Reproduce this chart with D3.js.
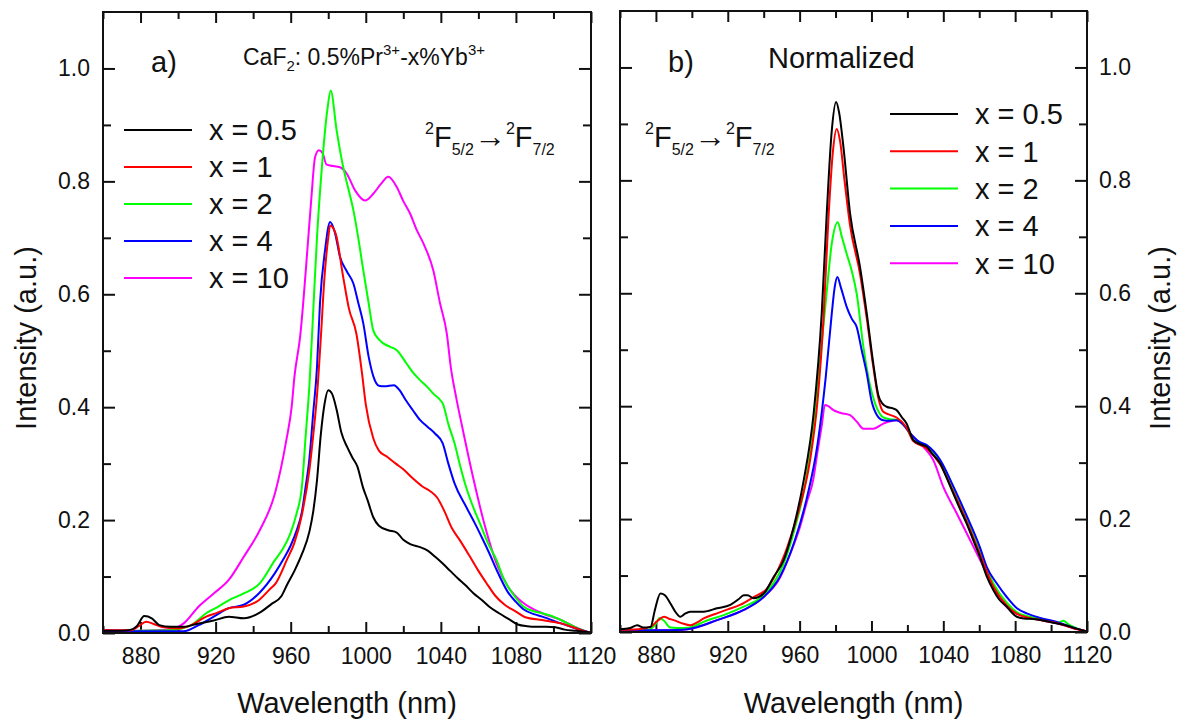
<!DOCTYPE html>
<html><head><meta charset="utf-8">
<script src="https://cdn.jsdelivr.net/npm/d3@7"></script>
<style>
body{margin:0;background:#fff}
text{font-family:Arial,"Liberation Sans",sans-serif;fill:#111}
</style></head>
<body><svg id="chart" width="1185" height="722"></svg>
<script>
// ---------- data ----------
const wavelengthTicks = [880, 920, 960, 1000, 1040, 1080, 1120];
const wavelengthMinorTicks = [860, 900, 940, 980, 1020, 1060, 1100];
const intensityTicks = [0, 0.2, 0.4, 0.6, 0.8, 1.0];
const intensityMinorTicks = [0.1, 0.3, 0.5, 0.7, 0.9];
const seriesLabels = ["x = 0.5", "x = 1", "x = 2", "x = 4", "x = 10"];
const seriesColors = ["#000000", "#ff0000", "#00ff00", "#0000ff", "#ff00ff"];

// panel a) absolute intensity  [wavelength nm, intensity]
const absX05 = [[860,0.004],[870,0.004],[875,0.006],[878,0.012],[882,0.030],[886,0.026],[890,0.014],[896,0.011],[903,0.011],[911,0.017],[919,0.022],[927,0.029],[935,0.026],[943,0.035],[950,0.052],[955,0.065],[958,0.085],[962,0.11],[966,0.14],[970,0.18],[972,0.215],[974,0.27],[976,0.35],[978,0.405],[980,0.430],[982,0.424],[984.5,0.395],[987,0.355],[990,0.33],[993,0.31],[995.5,0.295],[998.5,0.258],[1001,0.235],[1004,0.205],[1007,0.19],[1012,0.182],[1016.5,0.178],[1020,0.165],[1024,0.157],[1029,0.152],[1033,0.146],[1037,0.135],[1041,0.123],[1045,0.11],[1049,0.097],[1053,0.085],[1057.5,0.07],[1062,0.058],[1066,0.046],[1071,0.035],[1076,0.025],[1081,0.015],[1086,0.012],[1091,0.011],[1096,0.011],[1101,0.01],[1106,0.006],[1112,0.004],[1120,0.001]];
const absX1 = [[860,0.005],[875,0.005],[879,0.012],[883,0.020],[887,0.016],[891,0.011],[900,0.008],[907,0.014],[915,0.029],[921,0.036],[927,0.044],[935,0.047],[943,0.058],[949,0.078],[952,0.088],[958,0.13],[962,0.16],[966,0.21],[970,0.29],[972,0.35],[974,0.42],[976,0.52],[978,0.63],[980,0.70],[981,0.722],[984,0.707],[988,0.63],[991,0.575],[995,0.53],[998,0.46],[1000,0.405],[1004,0.345],[1007,0.323],[1011,0.313],[1016,0.300],[1020,0.29],[1025,0.274],[1030,0.26],[1034,0.252],[1038,0.24],[1042,0.215],[1046,0.185],[1050,0.165],[1055,0.138],[1060,0.11],[1064,0.09],[1069,0.066],[1074,0.05],[1080,0.038],[1085,0.028],[1094,0.023],[1104,0.017],[1114,0.006],[1120,0.0]];
const absX2 = [[860,0.002],[880,0.004],[896,0.005],[902,0.008],[907,0.014],[915,0.035],[921,0.046],[927,0.058],[935,0.07],[943.5,0.088],[951.6,0.129],[956,0.15],[959.8,0.176],[963,0.21],[966,0.26],[968,0.35],[970,0.44],[972,0.57],[974,0.70],[976.5,0.82],[979.5,0.926],[981.3,0.961],[984.5,0.89],[988,0.825],[990.5,0.79],[993.4,0.749],[996,0.70],[998.7,0.642],[1001.5,0.585],[1004,0.536],[1007,0.52],[1009.3,0.513],[1013,0.507],[1016.5,0.501],[1021.8,0.477],[1025,0.462],[1028.9,0.448],[1033,0.435],[1036,0.424],[1039,0.415],[1041.2,0.405],[1044,0.37],[1047.3,0.336],[1050,0.3],[1053.4,0.259],[1057,0.225],[1061.6,0.188],[1065,0.16],[1069.7,0.129],[1073,0.1],[1075.8,0.082],[1080,0.062],[1084,0.047],[1090,0.038],[1094,0.035],[1099,0.03],[1104,0.023],[1112,0.01],[1120,0.0]];
const absX4 = [[860,0.003],[880,0.003],[895,0.003],[903,0.003],[911,0.014],[919,0.029],[927,0.044],[935,0.050],[943,0.07],[951.6,0.106],[956,0.13],[960,0.155],[963,0.18],[966,0.215],[968,0.26],[970,0.31],[972,0.39],[974,0.47],[975.6,0.584],[978.3,0.678],[981,0.728],[983.5,0.71],[986.3,0.666],[990,0.64],[993.4,0.619],[996,0.585],[998.7,0.548],[1001.5,0.49],[1004,0.455],[1007,0.438],[1010,0.437],[1015,0.439],[1018,0.43],[1021,0.414],[1025,0.395],[1029,0.377],[1033,0.365],[1037,0.353],[1041,0.336],[1044,0.3],[1047.3,0.265],[1053.4,0.224],[1058,0.195],[1061.6,0.171],[1066,0.14],[1069.7,0.112],[1075.8,0.072],[1080,0.055],[1084,0.042],[1090,0.033],[1094,0.029],[1104,0.017],[1112,0.008],[1120,0.0]];
const absX10 = [[860,0.005],[880,0.004],[895,0.006],[903,0.017],[911,0.047],[919,0.07],[927,0.094],[935,0.135],[943.5,0.182],[951.6,0.247],[957.7,0.342],[960.5,0.40],[962,0.454],[965,0.524],[969.4,0.701],[971,0.77],[973,0.843],[975,0.855],[977,0.85],[979,0.83],[981,0.828],[986.3,0.825],[989.8,0.814],[994.3,0.784],[999.6,0.766],[1004,0.778],[1008,0.795],[1012,0.808],[1016.5,0.79],[1020,0.765],[1023.6,0.743],[1027,0.715],[1030.7,0.69],[1036,0.642],[1039.5,0.585],[1043.2,0.530],[1045.3,0.471],[1048,0.42],[1051.4,0.365],[1057.5,0.271],[1063.6,0.188],[1069.7,0.123],[1075.8,0.082],[1084,0.053],[1094,0.035],[1104,0.023],[1112,0.01],[1120,0.0]];

// panel b) normalized intensity
const normX05 = [[860,0.005],[865.7,0.007],[869.5,0.012],[873,0.008],[877,0.009],[879.5,0.04],[882.5,0.068],[885,0.065],[888,0.051],[891,0.035],[893.6,0.027],[896,0.032],[899,0.036],[906.6,0.036],[914,0.042],[921.4,0.048],[926,0.058],[928.9,0.065],[931,0.065],[934.4,0.06],[940,0.068],[945.6,0.098],[951.1,0.127],[956.7,0.186],[962.3,0.269],[967.8,0.387],[972.3,0.564],[975.1,0.741],[977.9,0.888],[980.3,0.939],[982,0.92],[984.4,0.859],[988.1,0.741],[993.6,0.647],[997.4,0.564],[1001,0.476],[1003.8,0.42],[1006,0.405],[1008.5,0.399],[1012,0.396],[1014,0.393],[1017,0.38],[1019.6,0.369],[1023.3,0.340],[1027,0.333],[1030.8,0.328],[1034,0.315],[1038.2,0.299],[1042,0.272],[1045.6,0.245],[1049,0.22],[1053,0.192],[1057,0.16],[1060.4,0.133],[1064,0.1],[1067.9,0.074],[1071,0.058],[1075.3,0.045],[1078,0.035],[1080.9,0.027],[1085,0.024],[1090,0.023],[1096,0.02],[1102,0.016],[1108,0.012],[1114,0.006],[1120,0.001]];
const normX1 = [[860,0.004],[870,0.005],[877,0.009],[881,0.02],[884.5,0.027],[887,0.024],[889.9,0.021],[895,0.015],[899,0.012],[903,0.017],[906.6,0.024],[914,0.033],[920,0.04],[926.8,0.048],[934.4,0.062],[941.8,0.077],[946.8,0.103],[953.1,0.150],[959.5,0.215],[965.8,0.304],[970,0.41],[973.2,0.55],[976,0.73],[978.5,0.85],[980.6,0.891],[982.5,0.87],[985,0.80],[988.1,0.72],[993.6,0.635],[997.4,0.555],[1001,0.47],[1003.8,0.415],[1006.6,0.39],[1010,0.385],[1014,0.38],[1019.6,0.362],[1023.3,0.338],[1030.8,0.325],[1038.2,0.297],[1045.6,0.248],[1053,0.196],[1060.4,0.138],[1067.9,0.08],[1075.3,0.047],[1081,0.032],[1088,0.025],[1096,0.02],[1104,0.015],[1112,0.007],[1120,0.001]];
const normX2 = [[860,0.002],[875,0.003],[880,0.015],[882,0.025],[884.5,0.02],[888,0.008],[895.6,0.007],[901,0.01],[906.6,0.018],[917.7,0.03],[928.9,0.045],[938.1,0.06],[945.6,0.087],[951,0.12],[957,0.18],[963,0.26],[968,0.37],[972,0.5],[975,0.6],[978,0.69],[981.2,0.726],[983.5,0.70],[986.2,0.67],[989,0.64],[991.8,0.599],[995.5,0.505],[999,0.44],[1002,0.405],[1006.6,0.38],[1010,0.377],[1014,0.376],[1019.6,0.36],[1023.3,0.34],[1030.8,0.33],[1038.2,0.302],[1045.6,0.252],[1053,0.2],[1060.4,0.143],[1067.9,0.086],[1075.3,0.052],[1081,0.035],[1088,0.027],[1096,0.022],[1104,0.017],[1107,0.02],[1109,0.015],[1114,0.007],[1120,0.001]];
const normX4 = [[860,0.003],[880,0.003],[895,0.004],[901,0.007],[914,0.021],[928.9,0.039],[940,0.062],[948.9,0.097],[957.3,0.162],[963.7,0.233],[970,0.333],[974.5,0.45],[977.9,0.564],[979.5,0.61],[981,0.629],[983,0.61],[986.2,0.576],[989,0.555],[991.8,0.540],[994.5,0.5],[997.4,0.458],[1000,0.41],[1002.9,0.385],[1006.6,0.375],[1010,0.374],[1014,0.375],[1017,0.37],[1021.5,0.352],[1026,0.338],[1030.8,0.331],[1038.2,0.305],[1045.6,0.258],[1053,0.206],[1060.4,0.15],[1064.1,0.116],[1070,0.085],[1075.3,0.062],[1081,0.042],[1086.4,0.033],[1094,0.025],[1104,0.017],[1112,0.008],[1120,0.001]];
const normX10 = [[860,0.003],[880,0.003],[895,0.004],[901,0.007],[914,0.021],[928.9,0.039],[940,0.062],[948.9,0.095],[955,0.14],[960.2,0.186],[964,0.23],[967.6,0.27],[970,0.32],[972.3,0.365],[974.1,0.402],[976,0.4],[978.8,0.393],[983,0.388],[988.1,0.384],[992,0.372],[995.5,0.360],[1001,0.360],[1006.6,0.369],[1010,0.373],[1014,0.375],[1018,0.366],[1021.5,0.352],[1028.9,0.328],[1034.5,0.304],[1040,0.257],[1047.5,0.210],[1054.9,0.163],[1062.3,0.116],[1069.7,0.068],[1077.1,0.039],[1086.4,0.027],[1096,0.02],[1104,0.015],[1112,0.007],[1120,0.001]];

const absSeries = [absX05, absX1, absX2, absX4, absX10];
const normSeries = [normX05, normX1, normX2, normX4, normX10];

// ---------- drawing ----------
const svg = d3.select("#chart");
const FONT = 23;

function supSubText(g, x, y, parts) {
  const t = g.append("text").attr("x", x).attr("y", y);
  parts.forEach(p => {
    t.append("tspan").attr("font-size", p.s).attr("dy", p.dy || 0).text(p.t);
  });
  return t;
}

function drawPanel(cfg) {
  const g = svg.append("g");
  const x = d3.scaleLinear().domain([860, 1120]).range([cfg.x0, cfg.x1]);
  const y = d3.scaleLinear().domain([0, 1.1]).range([cfg.y1, cfg.y0]);
  const clipId = "clip" + cfg.id;
  svg.append("clipPath").attr("id", clipId).append("rect")
    .attr("x", cfg.x0).attr("y", cfg.y0).attr("width", cfg.x1 - cfg.x0).attr("height", cfg.y1 - cfg.y0);

  const styleAxis = sel => {
    sel.select(".domain").remove();
    sel.selectAll(".tick line").attr("stroke", "#111").attr("stroke-width", 2);
    sel.selectAll(".tick text").attr("font-size", FONT).attr("fill", "#111")
      .attr("font-family", "Arial, 'Liberation Sans', sans-serif");
  };
  // bottom
  g.append("g").attr("transform", `translate(0,${cfg.y1})`)
    .call(d3.axisBottom(x).tickValues(wavelengthTicks).tickSize(-11).tickPadding(15).tickFormat(d3.format("d")))
    .call(styleAxis);
  g.append("g").attr("transform", `translate(0,${cfg.y1})`)
    .call(d3.axisBottom(x).tickValues(wavelengthMinorTicks).tickSize(-7).tickFormat(""))
    .call(styleAxis);
  // top
  g.append("g").attr("transform", `translate(0,${cfg.y0})`)
    .call(d3.axisTop(x).tickValues(wavelengthTicks).tickSize(-11).tickFormat(""))
    .call(styleAxis);
  g.append("g").attr("transform", `translate(0,${cfg.y0})`)
    .call(d3.axisTop(x).tickValues(wavelengthMinorTicks).tickSize(-7).tickFormat(""))
    .call(styleAxis);
  // left & right
  const fmt = d3.format(".1f");
  g.append("g").attr("transform", `translate(${cfg.x0},0)`)
    .call(d3.axisLeft(y).tickValues(intensityTicks).tickSize(-12).tickPadding(13)
      .tickFormat(cfg.labelsLeft ? fmt : ""))
    .call(styleAxis);
  g.append("g").attr("transform", `translate(${cfg.x0},0)`)
    .call(d3.axisLeft(y).tickValues(intensityMinorTicks).tickSize(-8).tickFormat(""))
    .call(styleAxis);
  g.append("g").attr("transform", `translate(${cfg.x1},0)`)
    .call(d3.axisRight(y).tickValues(intensityTicks).tickSize(-12).tickPadding(12)
      .tickFormat(cfg.labelsLeft ? "" : fmt))
    .call(styleAxis);
  g.append("g").attr("transform", `translate(${cfg.x1},0)`)
    .call(d3.axisRight(y).tickValues(intensityMinorTicks).tickSize(-8).tickFormat(""))
    .call(styleAxis);

  // curves
  const line = d3.line().x(d => x(d[0])).y(d => y(d[1])).curve(d3.curveMonotoneX);
  const order = [4, 2, 3, 1, 0];
  g.append("g").attr("clip-path", `url(#${clipId})`)
    .selectAll("path").data(order).join("path")
    .attr("d", i => line(cfg.series[i]))
    .attr("fill", "none").attr("stroke", i => seriesColors[i]).attr("stroke-width", 2)
    .attr("stroke-linejoin", "round");

  // frame
  g.append("rect").attr("x", cfg.x0).attr("y", cfg.y0)
    .attr("width", cfg.x1 - cfg.x0).attr("height", cfg.y1 - cfg.y0)
    .attr("fill", "none").attr("stroke", "#111").attr("stroke-width", 2);

  // legend
  const lg = g.append("g");
  seriesLabels.forEach((lab, i) => {
    const ly = cfg.legY + i * cfg.legStep;
    lg.append("line").attr("x1", cfg.legX).attr("x2", cfg.legX + 68)
      .attr("y1", ly).attr("y2", ly).attr("stroke", seriesColors[i]).attr("stroke-width", 2);
    lg.append("text").attr("x", cfg.legX + 85).attr("y", ly).attr("dy", "0.36em")
      .attr("font-size", 29).text(lab);
  });

  // axis titles
  g.append("text").attr("x", (cfg.x0 + cfg.x1) / 2).attr("y", 713)
    .attr("text-anchor", "middle").attr("font-size", 29).text("Wavelength (nm)");
  g.append("text").attr("transform", `translate(${cfg.yTitleX},338) rotate(-90)`)
    .attr("text-anchor", "middle").attr("dy", "0.36em").attr("font-size", 29).text("Intensity (a.u.)");

  // transition label
  supSubText(g, cfg.trX, 147, [
    {t: "2", s: 16, dy: -13}, {t: "F", s: 29, dy: 13}, {t: "5/2", s: 16, dy: 8},
    {t: "\u2192", s: 32, dy: -8}, {t: "2", s: 16, dy: -13}, {t: "F", s: 29, dy: 13},
    {t: "7/2", s: 16, dy: 8}
  ]);
  return g;
}

const gA = drawPanel({id: "A", x0: 103, x1: 591, y0: 12, y1: 633, labelsLeft: true,
  series: absSeries, legX: 124, legY: 130, legStep: 37, yTitleX: 26, trX: 425});
const gB = drawPanel({id: "B", x0: 620, x1: 1087, y0: 11, y1: 632, labelsLeft: false,
  series: normSeries, legX: 890, legY: 114, legStep: 37.3, yTitleX: 1160, trX: 645});

gA.append("text").attr("x", 151).attr("y", 72).attr("font-size", 29).text("a)");
supSubText(gA, 243, 65, [
  {t: "CaF", s: 23}, {t: "2", s: 15, dy: 6}, {t: ": 0.5%Pr", s: 23, dy: -6},
  {t: "3+", s: 15, dy: -10}, {t: "-x%Yb", s: 23, dy: 10}, {t: "3+", s: 15, dy: -10}
]);
gB.append("text").attr("x", 668).attr("y", 72).attr("font-size", 29).text("b)");
gB.append("text").attr("x", 768).attr("y", 68).attr("font-size", 29).text("Normalized");
</script></body></html>
